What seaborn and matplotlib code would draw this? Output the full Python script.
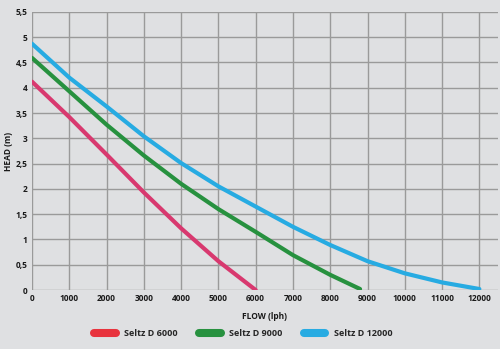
import matplotlib
matplotlib.use("Agg")
import matplotlib.pyplot as plt
from matplotlib.lines import Line2D
import seaborn as sns
import pandas as pd

# Pump performance curves: flow (l/h) against head (m)
models = ["Seltz D 6000", "Seltz D 9000", "Seltz D 12000"]

flow_6000 = [0, 1000, 2000, 3000, 4000, 5000, 6000]
head_6000 = [4.12, 3.42, 2.68, 1.93, 1.22, 0.57, 0.0]

flow_9000 = [0, 1000, 2000, 3000, 4000, 5000, 6000, 7000, 8000, 8800]
head_9000 = [4.59, 3.93, 3.27, 2.66, 2.10, 1.60, 1.15, 0.69, 0.30, 0.02]

flow_12000 = [0, 1000, 2000, 3000, 4000, 5000, 6000, 7000, 8000, 9000,
              10000, 11000, 12000]
head_12000 = [4.87, 4.20, 3.63, 3.04, 2.51, 2.05, 1.65, 1.25, 0.89, 0.57,
              0.33, 0.15, 0.02]

x_ticks = list(range(0, 12001, 1000))
y_ticks = [0, 0.5, 1, 1.5, 2, 2.5, 3, 3.5, 4, 4.5, 5, 5.5]
y_tick_labels = ["0", "0,5", "1", "1,5", "2", "2,5", "3", "3,5", "4", "4,5", "5", "5,5"]

line_colors = ["#d8396f", "#27913f", "#27abe2"]
legend_colors = ["#e8333d", "#27913f", "#27abe2"]

df = pd.concat([
    pd.DataFrame({"flow": flow_6000, "head": head_6000, "model": models[0]}),
    pd.DataFrame({"flow": flow_9000, "head": head_9000, "model": models[1]}),
    pd.DataFrame({"flow": flow_12000, "head": head_12000, "model": models[2]}),
], ignore_index=True)

bg = "#dfe0e2"
sns.set_theme(style="white")
plt.rcParams["font.family"] = ["Open Sans", "DejaVu Sans"]

fig = plt.figure(figsize=(5.0, 3.49), dpi=100, facecolor=bg)
ax = fig.add_axes([0.064, 0.169, 0.932, 0.797])
ax.set_facecolor(bg)

sns.lineplot(data=df, x="flow", y="head", hue="model", hue_order=models,
             palette=line_colors, linewidth=3.0, legend=False, ax=ax,
             solid_capstyle="round")

ax.set_xlim(0, 12500)
ax.set_ylim(0, 5.5)
ax.set_xticks(x_ticks)
ax.set_xticklabels([str(t) for t in x_ticks])
ax.set_yticks(y_ticks)
ax.set_yticklabels(y_tick_labels)
ax.tick_params(axis="both", length=0, labelsize=6, labelcolor="#1a1a1a", pad=3)
for lab in ax.get_xticklabels() + ax.get_yticklabels():
    lab.set_fontweight("bold")

ax.grid(True, color="#9a9a9a", linewidth=1.0)
ax.set_axisbelow(True)
for s in ax.spines.values():
    s.set_visible(False)

ax.set_xlabel("FLOW (lph)", fontsize=6, fontweight="bold", color="#1a1a1a", labelpad=6)
ax.set_ylabel("HEAD (m)", fontsize=6, fontweight="bold", color="#1a1a1a", labelpad=2)

handles = [Line2D([0], [0], color=c, linewidth=5.8, solid_capstyle="round")
           for c in legend_colors]
fig.legend(handles, models, loc="center", bbox_to_anchor=(0.486, 0.043),
           ncol=3, frameon=False, handlelength=2.4, columnspacing=2.4,
           handletextpad=0.9,
           prop={"size": 6.5, "weight": "bold", "family": ["Open Sans", "DejaVu Sans"]})

fig.savefig("out.png", dpi=100, facecolor=bg)
